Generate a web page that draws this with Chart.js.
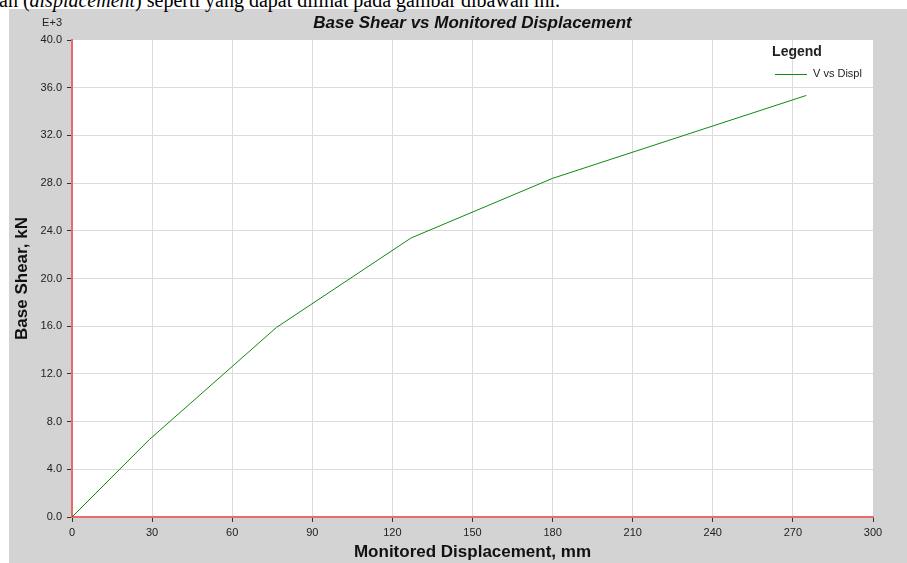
<!DOCTYPE html>
<html>
<head>
<meta charset="utf-8">
<script src="https://cdn.jsdelivr.net/npm/chart.js@4.4.0/dist/chart.umd.min.js"></script>
<style>
  html, body { margin:0; padding:0; background:#fff; width:907px; height:563px; overflow:hidden; }
  #panel { position:absolute; left:9px; top:9px; width:898px; height:554px; background:#d3d3d3; }
  #caption { position:absolute; left:-1px; top:-10px; font-family:"Liberation Serif","Times New Roman",serif; font-size:20px; line-height:20px; color:#000; white-space:nowrap; }
  #wrap { position:absolute; left:0; top:0; width:907px; height:563px; }
</style>
</head>
<body>
<div id="panel"></div>
<div id="caption">an (<i>displacement</i>) seperti yang dapat dilihat pada gambar dibawah ini.</div>
<div id="wrap"><canvas id="c" width="907" height="563" style="width:907px;height:563px"></canvas></div>
<script>
// ---- data ----
const chartTitle = "Base Shear vs Monitored Displacement";
const seriesLabel = "V vs Displ";
const displacementMM = [0, 29, 76.6, 127, 180, 275];
const baseShearKN = [0, 6500, 15900, 23400, 28400, 35350];
const xTickValues = [0, 30, 60, 90, 120, 150, 180, 210, 240, 270, 300];
const yTickValues = [0, 4000, 8000, 12000, 16000, 20000, 24000, 28000, 32000, 36000, 40000];
const yMultiplierLabel = "E+3";
const xAxisTitle = "Monitored Displacement, mm";
const yAxisTitle = "Base Shear, kN";
const legendTitle = "Legend";

const points = displacementMM.map((x, i) => ({ x: x, y: baseShearKN[i] }));
const FONT = "'Liberation Sans', Arial, sans-serif";

const plotBg = {
  id: 'plotBg',
  beforeDraw(chart) {
    const ctx = chart.ctx, a = chart.chartArea;
    ctx.save();
    ctx.fillStyle = '#ffffff';
    ctx.fillRect(a.left, a.top, a.right - a.left, a.bottom - a.top);
    ctx.restore();
  }
};

const overlay = {
  id: 'overlay',
  afterDraw(chart) {
    const ctx = chart.ctx, a = chart.chartArea;
    ctx.save();
    ctx.fillStyle = '#111';
    ctx.textBaseline = 'middle';
    ctx.textAlign = 'center';
    ctx.font = "italic bold 17px " + FONT;
    ctx.fillText(chartTitle, (a.left + a.right) / 2, 23);
    ctx.textAlign = 'right';
    ctx.font = "11px " + FONT;
    ctx.fillStyle = '#222';
    ctx.fillText(yMultiplierLabel, 62, 23);
    // legend
    ctx.textAlign = 'center';
    ctx.fillStyle = '#222';
    ctx.font = "bold 14px " + FONT;
    ctx.fillText(legendTitle, 797, 52);
    const ds = chart.data.datasets[0];
    ctx.strokeStyle = ds.borderColor;
    ctx.lineWidth = 1;
    ctx.beginPath();
    ctx.moveTo(775, 74.5);
    ctx.lineTo(807, 74.5);
    ctx.stroke();
    ctx.textAlign = 'left';
    ctx.font = "11px " + FONT;
    ctx.fillText(ds.label, 813, 74);
    ctx.restore();
  }
};

new Chart(document.getElementById('c'), {
  type: 'line',
  data: {
    datasets: [{
      label: seriesLabel,
      data: points,
      borderColor: '#108a10',
      borderWidth: 1,
      pointRadius: 0,
      tension: 0,
      fill: false
    }]
  },
  options: {
    responsive: false,
    animation: false,
    layout: { padding: { left: 9, right: 34, top: 40, bottom: 0 } },
    plugins: { legend: { display: false }, title: { display: false }, tooltip: { enabled: false } },
    scales: {
      x: {
        type: 'linear',
        min: 0, max: 300,
        afterBuildTicks: (s) => { s.ticks = xTickValues.map(v => ({ value: v })); },
        afterFit: (s) => { s.height = 46; },
        ticks: { font: { family: FONT, size: 11 }, color: '#222', padding: 4, maxRotation: 0, autoSkip: false },
        grid: {
          color: (c) => (c.tick && c.tick.value === 300) ? 'rgba(0,0,0,0)' : '#dcdcdc',
          lineWidth: 1, tickLength: 5, tickColor: '#333', drawTicks: true
        },
        border: { display: true, color: '#e86a6a', width: 2 },
        title: { display: true, text: xAxisTitle, color: '#111', font: { family: FONT, size: 17, weight: 'bold' }, padding: { top: 0, bottom: 0 } }
      },
      y: {
        type: 'linear',
        min: 0, max: 40000,
        afterBuildTicks: (s) => { s.ticks = yTickValues.map(v => ({ value: v })); },
        afterFit: (s) => { s.width = 63; },
        ticks: { font: { family: FONT, size: 11 }, color: '#222', padding: 5, autoSkip: false, callback: (v) => (v / 1000).toFixed(1) },
        grid: {
          color: (c) => (c.tick && c.tick.value === 40000) ? 'rgba(0,0,0,0)' : '#dcdcdc',
          lineWidth: 1, tickLength: 5, tickColor: '#333', drawTicks: true
        },
        border: { display: true, color: '#e86a6a', width: 2 },
        title: { display: true, text: yAxisTitle, color: '#111', font: { family: FONT, size: 17, weight: 'bold' }, padding: { top: 3, bottom: 0 } }
      }
    }
  },
  plugins: [plotBg, overlay]
});
</script>
</body>
</html>
